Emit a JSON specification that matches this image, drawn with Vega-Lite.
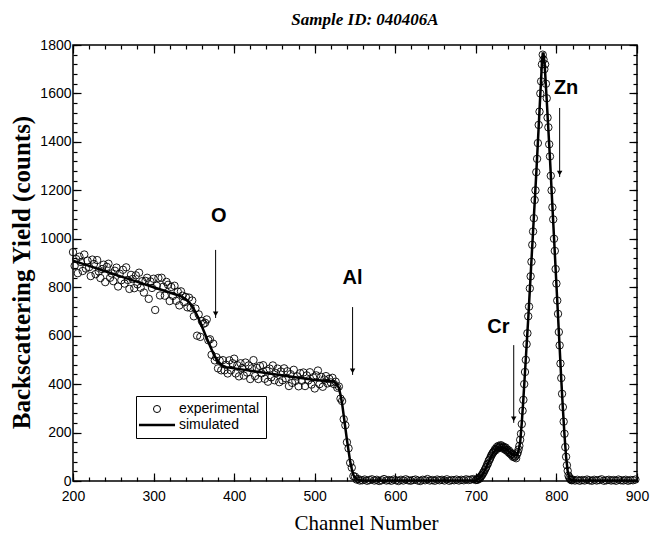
{
"$schema": "https://vega.github.io/schema/vega-lite/v6.json",
"width": 564, "height": 436,
"autosize": {"type": "none"},
"padding": {"left": 73, "top": 45, "right": 15, "bottom": 55},
"background": "white",
"title": {"text": "Sample ID: 040406A", "font": "Liberation Serif", "fontSize": 17, "fontStyle": "italic", "fontWeight": "bold", "anchor": "middle", "offset": 9, "dx": 10, "color": "black"},
"datasets": {
"exp": [
{"x":200,"y":945},{"x":202,"y":888},{"x":204,"y":916},{"x":206,"y":858},{"x":208,"y":926},{"x":210,"y":904},{"x":212,"y":867},{"x":214,"y":935},{"x":216,"y":877},{"x":218,"y":910},{"x":220,"y":883},{"x":222,"y":846},{"x":224,"y":914},{"x":226,"y":896},{"x":228,"y":854},{"x":230,"y":912},{"x":232,"y":865},{"x":234,"y":838},{"x":236,"y":875},{"x":238,"y":893},{"x":240,"y":821},{"x":242,"y":884},{"x":244,"y":897},{"x":246,"y":839},{"x":248,"y":857},{"x":250,"y":825},{"x":252,"y":868},{"x":254,"y":881},{"x":256,"y":803},{"x":258,"y":856},{"x":260,"y":829},{"x":262,"y":872},{"x":264,"y":815},{"x":266,"y":882},{"x":268,"y":830},{"x":270,"y":793},{"x":272,"y":851},{"x":274,"y":834},{"x":276,"y":796},{"x":278,"y":849},{"x":280,"y":812},{"x":282,"y":860},{"x":284,"y":798},{"x":286,"y":825},{"x":288,"y":778},{"x":290,"y":826},{"x":292,"y":839},{"x":294,"y":752},{"x":296,"y":824},{"x":298,"y":797},{"x":300,"y":835},{"x":302,"y":706},{"x":304,"y":806},{"x":306,"y":838},{"x":308,"y":766},{"x":310,"y":839},{"x":312,"y":802},{"x":314,"y":765},{"x":316,"y":822},{"x":318,"y":810},{"x":320,"y":743},{"x":322,"y":801},{"x":324,"y":764},{"x":326,"y":806},{"x":328,"y":744},{"x":330,"y":782},{"x":332,"y":725},{"x":334,"y":783},{"x":336,"y":765},{"x":338,"y":738},{"x":340,"y":760},{"x":342,"y":717},{"x":344,"y":757},{"x":346,"y":715},{"x":348,"y":745},{"x":350,"y":680},{"x":352,"y":712},{"x":354,"y":600},{"x":356,"y":688},{"x":358,"y":595},{"x":360,"y":660},{"x":362,"y":649},{"x":364,"y":653},{"x":366,"y":667},{"x":368,"y":581},{"x":370,"y":585},{"x":372,"y":521},{"x":374,"y":567},{"x":376,"y":498},{"x":378,"y":511},{"x":380,"y":465},{"x":382,"y":497},{"x":384,"y":457},{"x":386,"y":499},{"x":388,"y":457},{"x":390,"y":480},{"x":392,"y":444},{"x":394,"y":498},{"x":396,"y":457},{"x":398,"y":486},{"x":400,"y":505},{"x":402,"y":444},{"x":404,"y":478},{"x":406,"y":432},{"x":408,"y":486},{"x":410,"y":466},{"x":412,"y":435},{"x":414,"y":489},{"x":416,"y":448},{"x":418,"y":477},{"x":420,"y":421},{"x":422,"y":465},{"x":424,"y":499},{"x":426,"y":433},{"x":428,"y":467},{"x":430,"y":421},{"x":432,"y":475},{"x":434,"y":444},{"x":436,"y":478},{"x":438,"y":422},{"x":440,"y":456},{"x":442,"y":410},{"x":444,"y":464},{"x":446,"y":428},{"x":448,"y":477},{"x":450,"y":416},{"x":452,"y":445},{"x":454,"y":464},{"x":456,"y":408},{"x":458,"y":452},{"x":460,"y":416},{"x":462,"y":465},{"x":464,"y":424},{"x":466,"y":453},{"x":468,"y":392},{"x":470,"y":441},{"x":472,"y":405},{"x":474,"y":459},{"x":476,"y":413},{"x":478,"y":432},{"x":480,"y":391},{"x":482,"y":445},{"x":484,"y":414},{"x":486,"y":448},{"x":488,"y":392},{"x":490,"y":436},{"x":492,"y":415},{"x":494,"y":449},{"x":496,"y":398},{"x":498,"y":428},{"x":500,"y":382},{"x":502,"y":436},{"x":504,"y":456},{"x":506,"y":400},{"x":508,"y":430},{"x":510,"y":389},{"x":512,"y":419},{"x":514,"y":433},{"x":516,"y":403},{"x":518,"y":422},{"x":520,"y":407},{"x":522,"y":426},{"x":524,"y":400},{"x":526,"y":410},{"x":528,"y":385},{"x":530,"y":390},{"x":532,"y":340},{"x":534,"y":330},{"x":536,"y":255},{"x":538,"y":230},{"x":540,"y":160},{"x":542,"y":135},{"x":544,"y":75},{"x":546,"y":55},{"x":548,"y":20},{"x":550,"y":18},{"x":552,"y":6},{"x":554,"y":8},{"x":556,"y":2},
{"x":559,"y":3},{"x":562,"y":6},{"x":565,"y":1},{"x":568,"y":4},{"x":571,"y":7},{"x":574,"y":2},{"x":577,"y":5},{"x":580,"y":0},{"x":583,"y":3},{"x":586,"y":8},{"x":589,"y":2},{"x":592,"y":4},{"x":595,"y":1},{"x":598,"y":6},{"x":601,"y":3},{"x":604,"y":0},{"x":607,"y":5},{"x":610,"y":2},{"x":613,"y":7},{"x":616,"y":3},{"x":619,"y":1},{"x":622,"y":4},{"x":625,"y":6},{"x":628,"y":2},{"x":631,"y":0},{"x":634,"y":5},{"x":637,"y":3},{"x":640,"y":8},{"x":643,"y":2},{"x":646,"y":4},{"x":649,"y":1},{"x":652,"y":6},{"x":655,"y":3},{"x":658,"y":5},{"x":661,"y":2},{"x":664,"y":7},{"x":667,"y":1},{"x":670,"y":4},{"x":673,"y":3},{"x":676,"y":6},{"x":679,"y":2},{"x":682,"y":5},{"x":685,"y":3},{"x":688,"y":7},{"x":691,"y":4},{"x":694,"y":6},{"x":697,"y":8},
{"x":700,"y":4},{"x":701,"y":6},{"x":702,"y":5},{"x":703,"y":9},{"x":704,"y":12},{"x":705,"y":10},{"x":706,"y":18},{"x":707,"y":22},{"x":708,"y":26},{"x":709,"y":33},{"x":710,"y":38},{"x":711,"y":45},{"x":712,"y":52},{"x":713,"y":58},{"x":714,"y":68},{"x":715,"y":72},{"x":716,"y":84},{"x":717,"y":88},{"x":718,"y":96},{"x":719,"y":104},{"x":720,"y":110},{"x":721,"y":116},{"x":722,"y":120},{"x":723,"y":125},{"x":724,"y":132},{"x":725,"y":128},{"x":726,"y":140},{"x":727,"y":135},{"x":728,"y":145},{"x":729,"y":138},{"x":730,"y":142},{"x":731,"y":148},{"x":732,"y":136},{"x":733,"y":144},{"x":734,"y":138},{"x":735,"y":140},{"x":736,"y":130},{"x":737,"y":138},{"x":738,"y":126},{"x":739,"y":130},{"x":740,"y":120},{"x":741,"y":126},{"x":742,"y":114},{"x":743,"y":118},{"x":744,"y":108},{"x":745,"y":112},{"x":746,"y":100},{"x":747,"y":106},{"x":748,"y":98},{"x":749,"y":102},{"x":750,"y":94},{"x":751,"y":110},{"x":752,"y":118},{"x":753,"y":130},{"x":754,"y":145},{"x":755,"y":170},{"x":756,"y":195},{"x":757,"y":235},{"x":758,"y":290},{"x":759,"y":335},{"x":760,"y":400},{"x":761,"y":450},{"x":762,"y":500},{"x":763,"y":565},{"x":764,"y":610},{"x":765,"y":680},{"x":766,"y":720},{"x":767,"y":795},{"x":768,"y":845},{"x":769,"y":905},{"x":770,"y":975},{"x":771,"y":1030},{"x":772,"y":1085},{"x":773,"y":1160},{"x":774,"y":1200},{"x":775,"y":1275},{"x":776,"y":1330},{"x":777,"y":1395},{"x":778,"y":1470},{"x":779,"y":1525},{"x":780,"y":1600},{"x":781,"y":1650},{"x":782,"y":1720},{"x":783,"y":1760},{"x":784,"y":1740},{"x":785,"y":1700},{"x":786,"y":1720},{"x":787,"y":1640},{"x":788,"y":1580},{"x":789,"y":1500},{"x":790,"y":1460},{"x":791,"y":1390},{"x":792,"y":1340},{"x":793,"y":1260},{"x":794,"y":1200},{"x":795,"y":1130},{"x":796,"y":1080},{"x":797,"y":1000},{"x":798,"y":950},{"x":799,"y":875},{"x":800,"y":815},{"x":801,"y":745},{"x":802,"y":690},{"x":803,"y":615},{"x":804,"y":560},{"x":805,"y":485},{"x":806,"y":425},{"x":807,"y":360},{"x":808,"y":305},{"x":809,"y":245},{"x":810,"y":195},{"x":811,"y":140},{"x":812,"y":100},{"x":813,"y":65},{"x":814,"y":42},{"x":815,"y":22},{"x":816,"y":14},{"x":817,"y":8},{"x":818,"y":5},{"x":819,"y":3},{"x":820,"y":6},
{"x":823,"y":2},{"x":826,"y":5},{"x":829,"y":1},{"x":832,"y":4},{"x":835,"y":2},{"x":838,"y":6},{"x":841,"y":3},{"x":844,"y":1},{"x":847,"y":5},{"x":850,"y":2},{"x":853,"y":4},{"x":856,"y":7},{"x":859,"y":1},{"x":862,"y":3},{"x":865,"y":5},{"x":868,"y":2},{"x":871,"y":4},{"x":874,"y":1},{"x":877,"y":6},{"x":880,"y":3},{"x":883,"y":2},{"x":886,"y":5},{"x":889,"y":1},{"x":892,"y":4},{"x":895,"y":3},{"x":898,"y":6}
],
"sim": [
{"x":200,"y":910},{"x":220,"y":888},{"x":240,"y":866},{"x":260,"y":844},{"x":280,"y":822},{"x":300,"y":800},{"x":320,"y":778},{"x":335,"y":761},{"x":340,"y":750},{"x":345,"y":735},{"x":350,"y":710},{"x":355,"y":677},{"x":360,"y":638},{"x":365,"y":598},{"x":370,"y":558},{"x":375,"y":520},{"x":380,"y":492},{"x":385,"y":477},{"x":390,"y":470},{"x":400,"y":465},{"x":450,"y":441},{"x":500,"y":417},{"x":520,"y":412},{"x":524,"y":410},{"x":526,"y":405},{"x":528,"y":395},{"x":530,"y":385},{"x":532,"y":355},{"x":534,"y":320},{"x":536,"y":270},{"x":538,"y":220},{"x":540,"y":170},{"x":542,"y":125},{"x":544,"y":80},{"x":546,"y":50},{"x":548,"y":25},{"x":550,"y":15},{"x":552,"y":8},{"x":555,"y":3},{"x":560,"y":2},{"x":700,"y":3},{"x":704,"y":10},{"x":708,"y":25},{"x":712,"y":50},{"x":716,"y":80},{"x":720,"y":108},{"x":724,"y":128},{"x":728,"y":138},{"x":732,"y":140},{"x":736,"y":135},{"x":740,"y":125},{"x":744,"y":112},{"x":748,"y":105},{"x":751,"y":108},{"x":753,"y":125},{"x":755,"y":160},{"x":757,"y":240},{"x":759,"y":340},{"x":761,"y":450},{"x":763,"y":560},{"x":765,"y":670},{"x":767,"y":790},{"x":769,"y":910},{"x":771,"y":1030},{"x":773,"y":1150},{"x":775,"y":1270},{"x":777,"y":1400},{"x":779,"y":1530},{"x":781,"y":1660},{"x":782,"y":1725},{"x":783,"y":1765},{"x":784,"y":1765},{"x":785,"y":1735},{"x":786,"y":1685},{"x":788,"y":1570},{"x":790,"y":1450},{"x":792,"y":1330},{"x":794,"y":1200},{"x":796,"y":1070},{"x":798,"y":940},{"x":800,"y":810},{"x":802,"y":680},{"x":804,"y":550},{"x":806,"y":420},{"x":808,"y":300},{"x":810,"y":190},{"x":812,"y":100},{"x":814,"y":40},{"x":816,"y":12},{"x":818,"y":4},{"x":822,"y":2},{"x":900,"y":2}
],
"labels": [{"x":381,"y":1095,"t":"O"},{"x":547,"y":838,"t":"Al"},{"x":728,"y":636,"t":"Cr"},{"x":812,"y":1623,"t":"Zn"}],
"arrows": [{"x":377,"y1":954,"y2":673},{"x":547,"y1":718,"y2":438},{"x":747,"y1":561,"y2":240},{"x":804,"y1":1540,"y2":1255}]
},
"layer": [
{
"data": {"name": "exp"},
"mark": {"type": "point", "shape": "circle", "filled": false, "size": 55, "strokeWidth": 0.9, "opacity": 1},
"encoding": {
"x": {"field": "x", "type": "quantitative", "scale": {"domain": [200, 900], "nice": false, "zero": false},
 "axis": {"orient": "bottom", "values": [200,300,400,500,600,700,800,900], "format": "d", "labelOverlap": false, "tickSize": -8, "tickWidth": 1.2, "labelPadding": 16, "labelFont": "Liberation Sans", "labelFontSize": 14, "labelFlush": false,
  "title": "Channel Number", "titleFont": "Liberation Serif", "titleFontSize": 21, "titleFontWeight": "normal", "titleX": 293, "titleY": 48, "titleBaseline": "alphabetic", "titleAlign": "center"}},
"y": {"field": "y", "type": "quantitative", "scale": {"domain": [0, 1800], "nice": false, "zero": false},
 "axis": {"orient": "left", "values": [0,200,400,600,800,1000,1200,1400,1600,1800], "format": "d", "labelOverlap": false, "tickSize": -8, "tickWidth": 1.2, "labelPadding": 10, "labelFont": "Liberation Sans", "labelFontSize": 14, "labelFlush": false,
  "title": "Backscattering Yield (counts)", "titleFont": "Liberation Serif", "titleFontSize": 25, "titleFontWeight": "bold", "titleX": -52, "titleY": 227, "titleAngle": -90, "titleAlign": "center", "titleBaseline": "middle"}},
"color": {"datum": "experimental", "type": "nominal", "scale": {"domain": ["experimental", "simulated"], "range": ["black", "black"]},
 "legend": {"title": null, "orient": "none", "legendX": 63, "legendY": 351, "strokeColor": "black", "fillColor": "white", "padding": 6, "labelFont": "Liberation Sans", "labelFontSize": 14, "labelColor": "black", "labelOffset": 15, "symbolOffset": 8, "rowPadding": 2,
  "symbolType": {"expr": "datum.value === 'simulated' ? 'stroke' : 'circle'"},
  "symbolSize": {"expr": "datum.value === 'simulated' ? 1300 : 50"},
  "symbolStrokeWidth": {"expr": "datum.value === 'simulated' ? 2.5 : 1"},
  "symbolFillColor": "transparent", "symbolStrokeColor": "black"}}
}
},
{
"data": {"name": "sim"},
"mark": {"type": "line", "strokeWidth": 2.5},
"encoding": {
"x": {"field": "x", "type": "quantitative", "scale": {"domain": [200, 900], "nice": false, "zero": false},
 "axis": {"orient": "bottom", "values": [200,220,240,260,280,300,320,340,360,380,400,420,440,460,480,500,520,540,560,580,600,620,640,660,680,700,720,740,760,780,800,820,840,860,880,900], "tickSize": -4, "tickWidth": 1.2, "labels": false, "title": null}},
"y": {"field": "y", "type": "quantitative", "scale": {"domain": [0, 1800], "nice": false, "zero": false},
 "axis": {"orient": "left", "values": [0,40,80,120,160,200,240,280,320,360,400,440,480,520,560,600,640,680,720,760,800,840,880,920,960,1000,1040,1080,1120,1160,1200,1240,1280,1320,1360,1400,1440,1480,1520,1560,1600,1640,1680,1720,1760,1800], "tickSize": -4, "tickWidth": 1.2, "labels": false, "title": null}},
"color": {"datum": "simulated", "type": "nominal"}
}
},
{
"data": {"name": "labels"},
"mark": {"type": "text", "font": "Liberation Sans", "fontSize": 20, "fontWeight": "bold", "align": "center", "baseline": "middle", "color": "black"},
"encoding": {
"x": {"field": "x", "type": "quantitative", "scale": {"domain": [200, 900], "nice": false, "zero": false},
 "axis": {"orient": "top", "values": [200,300,400,500,600,700,800,900], "tickSize": -8, "tickWidth": 1.2, "labels": false, "title": null}},
"y": {"field": "y", "type": "quantitative", "scale": {"domain": [0, 1800], "nice": false, "zero": false},
 "axis": {"orient": "right", "values": [0,200,400,600,800,1000,1200,1400,1600,1800], "tickSize": -8, "tickWidth": 1.2, "labels": false, "title": null}},
"text": {"field": "t"}
}
},
{
"data": {"name": "arrows"},
"mark": {"type": "rule", "strokeWidth": 1, "color": "black"},
"encoding": {
"x": {"field": "x", "type": "quantitative", "scale": {"domain": [200, 900], "nice": false, "zero": false},
 "axis": {"orient": "top", "values": [200,220,240,260,280,300,320,340,360,380,400,420,440,460,480,500,520,540,560,580,600,620,640,660,680,700,720,740,760,780,800,820,840,860,880,900], "tickSize": -4, "tickWidth": 1.2, "labels": false, "title": null}},
"y": {"field": "y1", "type": "quantitative", "scale": {"domain": [0, 1800], "nice": false, "zero": false},
 "axis": {"orient": "right", "values": [0,40,80,120,160,200,240,280,320,360,400,440,480,520,560,600,640,680,720,760,800,840,880,920,960,1000,1040,1080,1120,1160,1200,1240,1280,1320,1360,1400,1440,1480,1520,1560,1600,1640,1680,1720,1760,1800], "tickSize": -4, "tickWidth": 1.2, "labels": false, "title": null}},
"y2": {"field": "y2"}
}
},
{
"data": {"name": "arrows"},
"mark": {"type": "point", "shape": "triangle-down", "filled": true, "size": 30, "color": "black", "opacity": 1, "yOffset": -4},
"encoding": {
"x": {"field": "x", "type": "quantitative", "axis": null},
"y": {"field": "y2", "type": "quantitative", "axis": null}
}
}
],
"resolve": {"axis": {"x": "independent", "y": "independent"}},
"config": {"view": {"stroke": "black", "strokeWidth": 1.5}, "axis": {"grid": false, "domain": false, "tickColor": "black", "labelColor": "black", "titleColor": "black"}}
}
